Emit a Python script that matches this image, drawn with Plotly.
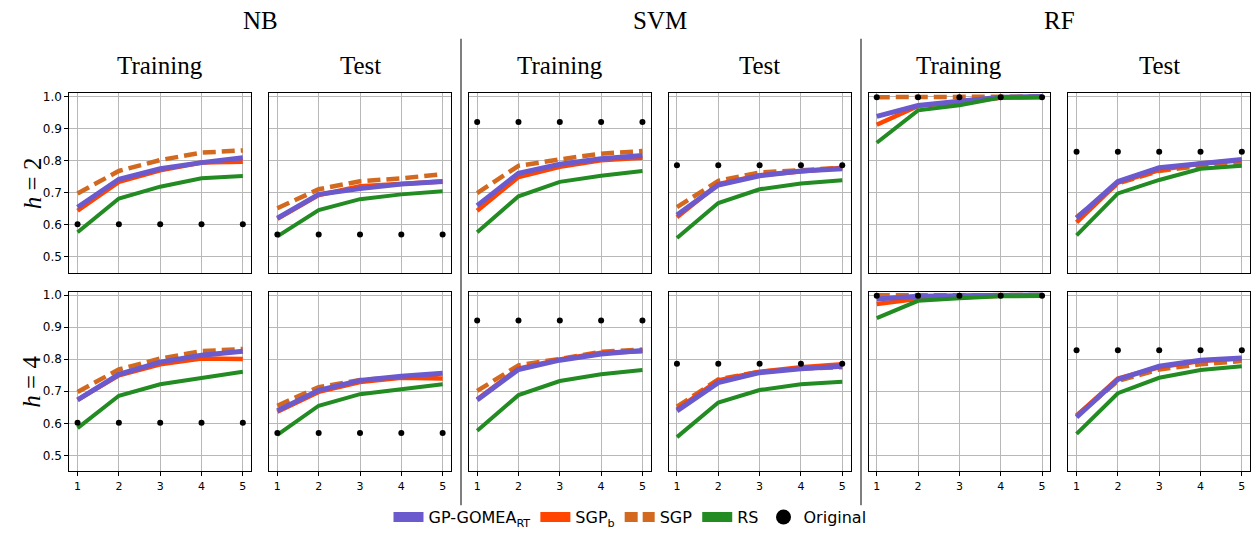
import plotly.graph_objects as go
from plotly.subplots import make_subplots

GENERATIONS = [1, 2, 3, 4, 5]
CLASSIFIERS = ["NB", "SVM", "RF"]
SPLITS = ["Training", "Test"]
DEPTHS = ["2", "4"]
Y_TICKS = [0.5, 0.6, 0.7, 0.8, 0.9, 1.0]

# panel order: NB train, NB test, SVM train, SVM test, RF train, RF test
ORIGINAL = [0.602, 0.570, 0.921, 0.786, 0.998, 0.828]

GOMEA_H2 = [
    [0.655, 0.742, 0.775, 0.794, 0.809],
    [0.621, 0.695, 0.713, 0.727, 0.735],
    [0.660, 0.761, 0.789, 0.806, 0.816],
    [0.631, 0.724, 0.753, 0.768, 0.775],
    [0.938, 0.972, 0.985, 0.998, 1.000],
    [0.621, 0.735, 0.778, 0.792, 0.804],
]
SGPB_H2 = [
    [0.644, 0.734, 0.770, 0.794, 0.797],
    [0.619, 0.693, 0.720, 0.729, 0.735],
    [0.644, 0.749, 0.781, 0.801, 0.809],
    [0.624, 0.727, 0.755, 0.768, 0.778],
    [0.912, 0.971, 0.982, 0.996, 0.998],
    [0.608, 0.732, 0.771, 0.791, 0.801],
]
SGP_H2 = [
    [0.698, 0.768, 0.802, 0.825, 0.832],
    [0.652, 0.711, 0.736, 0.745, 0.758],
    [0.699, 0.784, 0.804, 0.822, 0.830],
    [0.655, 0.737, 0.763, 0.771, 0.778],
    [0.998, 0.999, 1.000, 1.000, 1.000],
    [0.624, 0.729, 0.768, 0.784, 0.794],
]
RS_H2 = [
    [0.577, 0.682, 0.719, 0.745, 0.752],
    [0.564, 0.646, 0.680, 0.695, 0.705],
    [0.577, 0.689, 0.734, 0.753, 0.768],
    [0.559, 0.668, 0.711, 0.729, 0.739],
    [0.856, 0.957, 0.973, 0.997, 0.998],
    [0.567, 0.698, 0.740, 0.775, 0.784],
]

GOMEA_H4 = [
    [0.673, 0.753, 0.791, 0.812, 0.825],
    [0.639, 0.703, 0.734, 0.747, 0.756],
    [0.673, 0.768, 0.797, 0.816, 0.827],
    [0.639, 0.727, 0.758, 0.770, 0.778],
    [0.988, 0.996, 0.998, 1.000, 1.000],
    [0.619, 0.737, 0.778, 0.797, 0.804],
]
SGPB_H4 = [
    [0.673, 0.750, 0.784, 0.802, 0.801],
    [0.636, 0.698, 0.729, 0.742, 0.740],
    [0.675, 0.771, 0.799, 0.820, 0.825],
    [0.644, 0.734, 0.761, 0.775, 0.784],
    [0.972, 0.988, 0.993, 0.998, 0.998],
    [0.624, 0.740, 0.775, 0.794, 0.802],
]
SGP_H4 = [
    [0.698, 0.768, 0.802, 0.825, 0.832],
    [0.655, 0.713, 0.735, 0.745, 0.753],
    [0.701, 0.781, 0.801, 0.823, 0.830],
    [0.652, 0.737, 0.761, 0.771, 0.775],
    [0.999, 1.000, 1.000, 1.000, 1.000],
    [0.624, 0.732, 0.768, 0.784, 0.794],
]
RS_H4 = [
    [0.585, 0.686, 0.722, 0.742, 0.761],
    [0.564, 0.655, 0.691, 0.706, 0.722],
    [0.577, 0.688, 0.732, 0.753, 0.766],
    [0.557, 0.665, 0.704, 0.722, 0.730],
    [0.928, 0.982, 0.990, 0.996, 0.997],
    [0.567, 0.694, 0.742, 0.766, 0.778],
]

ROWS = [
    (SGP_H2, SGPB_H2, GOMEA_H2, RS_H2),
    (SGP_H4, SGPB_H4, GOMEA_H4, RS_H4),
]

PURPLE = "#6A5ACD"
RED = "#FF4500"
ORANGE = "#D2691E"
GREEN = "#228B22"

W, H = 1251, 535
SERIF = "Liberation Serif, Times New Roman, serif"
SANS = "DejaVu Sans, sans-serif"


def px_x(px):
    return px / W


def px_y(py):
    return 1 - py / H


fig = make_subplots(rows=2, cols=6)

for r, (sgp, sgpb, gomea, rs) in enumerate(ROWS, start=1):
    for c in range(6):
        kw = dict(row=r, col=c + 1)
        fig.add_trace(go.Scatter(x=GENERATIONS, y=sgp[c], mode="lines", showlegend=False,
                                 line=dict(color=ORANGE, width=4.5, dash="13px,6px")), **kw)
        fig.add_trace(go.Scatter(x=GENERATIONS, y=sgpb[c], mode="lines", showlegend=False,
                                 line=dict(color=RED, width=4.5)), **kw)
        fig.add_trace(go.Scatter(x=GENERATIONS, y=gomea[c], mode="lines", showlegend=False,
                                 line=dict(color=PURPLE, width=5)), **kw)
        fig.add_trace(go.Scatter(x=GENERATIONS, y=rs[c], mode="lines", showlegend=False,
                                 line=dict(color=GREEN, width=4)), **kw)
        fig.add_trace(go.Scatter(x=GENERATIONS, y=[ORIGINAL[c]] * len(GENERATIONS),
                                 mode="markers", showlegend=False,
                                 marker=dict(color="black", size=6)), **kw)

# legend-only entries (thick patches like the original)
legend_items = [
    ("GP-GOMEA<sub>RT</sub>", dict(color=PURPLE, width=14)),
    ("SGP<sub>b</sub>", dict(color=RED, width=14)),
    ("SGP", dict(color=ORANGE, width=14, dash="13px,5px")),
    ("RS", dict(color=GREEN, width=14)),
]
for name, line in legend_items:
    fig.add_trace(go.Scatter(x=[None], y=[None], mode="lines", name=name, line=line))
fig.add_trace(go.Scatter(x=[None], y=[None], mode="markers", name="Original",
                         marker=dict(color="black", size=15)))

# panel geometry (screen pixels)
col_left = [69.3 + 199.8 * i for i in range(6)]
col_w = 181.8
row_top = [90, 290]
row_h = 181

for r in range(2):
    for c in range(6):
        fig.update_xaxes(domain=[px_x(col_left[c]), px_x(col_left[c] + col_w)],
                         range=[0.8, 5.2], tickvals=GENERATIONS,
                         showticklabels=(r == 1), ticks="outside" if r == 1 else "",
                         ticklen=4, tickcolor="black",
                         showgrid=True, gridcolor="#b8b8b8", gridwidth=1,
                         showline=True, mirror=True, linecolor="black", linewidth=1,
                         zeroline=False, tickfont=dict(family=SANS, size=11, color="black"),
                         row=r + 1, col=c + 1)
        fig.update_yaxes(domain=[px_y(row_top[r] + row_h), px_y(row_top[r])],
                         range=[0.45, 1.01], tickvals=Y_TICKS,
                         ticktext=[f"{v:.1f}" for v in Y_TICKS],
                         showticklabels=(c == 0), ticks="outside" if c == 0 else "",
                         ticklen=4, tickcolor="black",
                         showgrid=True, gridcolor="#b8b8b8", gridwidth=1,
                         showline=True, mirror=True, linecolor="black", linewidth=1,
                         zeroline=False, tickfont=dict(family=SANS, size=12, color="black"),
                         row=r + 1, col=c + 1)

annotations = []
for i, name in enumerate(CLASSIFIERS):
    cx = (col_left[2 * i] + col_left[2 * i + 1] + col_w) / 2
    annotations.append(dict(text=name, x=px_x(cx), y=px_y(17), xref="paper", yref="paper",
                            xanchor="center", yanchor="middle", showarrow=False,
                            font=dict(family=SERIF, size=25, color="black")))
for c in range(6):
    cx = col_left[c] + col_w / 2
    annotations.append(dict(text=SPLITS[c % 2], x=px_x(cx), y=px_y(62), xref="paper",
                            yref="paper", xanchor="center", yanchor="middle", showarrow=False,
                            font=dict(family=SERIF, size=25, color="black")))
for r, d in enumerate(DEPTHS):
    cy = row_top[r] + row_h / 2
    annotations.append(dict(text=f"<i>h</i> = {d}", x=px_x(32), y=px_y(cy), xref="paper",
                            yref="paper", xanchor="center", yanchor="middle",
                            textangle=-90, showarrow=False,
                            font=dict(family=SERIF, size=25, color="black")))

shapes = []
for px in (461, 861):
    shapes.append(dict(type="line", xref="paper", yref="paper", x0=px_x(px), x1=px_x(px),
                       y0=px_y(35), y1=px_y(505), line=dict(color="black", width=1)))

fig.update_layout(
    width=W, height=H,
    margin=dict(l=0, r=0, t=0, b=0),
    paper_bgcolor="white",
    plot_bgcolor="white",
    font=dict(family=SANS, color="black"),
    annotations=annotations,
    shapes=shapes,
    showlegend=True,
    legend=dict(orientation="h", x=px_x(630), xanchor="center", y=px_y(517), yanchor="middle",
                font=dict(family=SANS, size=16, color="black"), itemwidth=30,
                bgcolor="rgba(0,0,0,0)"),
)

# drop the default page margin and scrollbars so the figure fills the window exactly
fig.write_html(
    "out.html",
    config={"displayModeBar": False},
    post_script="document.body.style.margin = '0'; document.body.style.overflow = 'hidden';",
)
